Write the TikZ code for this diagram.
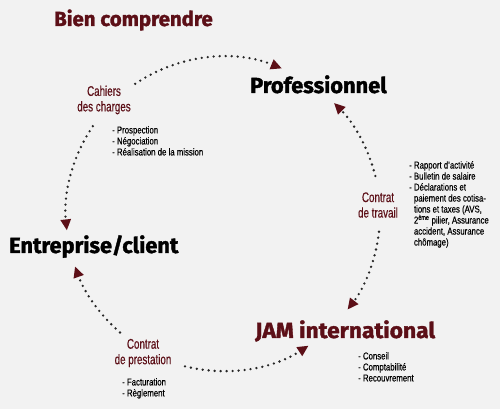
\documentclass[tikz,border=0pt]{standalone}
\usepackage{fontspec}
\setmainfont{Fira Sans}
\newfontfamily\heavyfont{Fira Sans}[BoldFeatures={FakeBold=1.6}]
\newfontfamily\wideheavyfont{Fira Sans}[BoldFeatures={FakeBold=1.6,FakeStretch=1.045}]
\newfontfamily\narrowfont[FakeStretch=0.78,FakeBold=0.4]{Liberation Sans}
\newfontfamily\labelfont[FakeStretch=0.70,FakeBold=0.4]{Liberation Sans}
\usetikzlibrary{arrows.meta}
\definecolor{bordeaux}{HTML}{5C0F17}
\definecolor{fond}{HTML}{F2F2F2}

\begin{document}
\begin{tikzpicture}[
    x=1pt,y=1pt,
    >={Triangle[length=11pt,width=10pt,color=bordeaux]},
    actor/.style={font=\heavyfont\bfseries\fontsize{21.8}{24}\selectfont,inner sep=0pt,anchor=base west},
    contract/.style={bordeaux,font=\labelfont\fontsize{14}{15.5}\selectfont,align=center,inner sep=0pt},
    tasks/.style={font=\narrowfont\fontsize{10}{11}\selectfont,align=left,inner sep=0pt,anchor=north west},
    link/.style={->,line width=2.6pt,line cap=round,dash pattern=on 0pt off 6pt,black!85},
]
% background
\fill[fond] (0,0) rectangle (500,409);
\node[font=\heavyfont\bfseries\fontsize{20.4}{22}\selectfont,bordeaux,inner sep=0pt,anchor=base west] (title) at (54,383) {Bien comprendre};

% the three parties
\node[actor] (pro) at (250,316) {Professionnel};
\node[actor] (ent) at (9,156) {Entreprise/client};
\node[actor,bordeaux,font=\wideheavyfont\bfseries\fontsize{21.8}{24}\selectfont] (jam) at (255,71) {JAM international};

% contracts sitting on the circle
\node[contract] (cdc) at (104,309) {Cahiers\\des charges};
\node[contract] (travail) at (378,204) {Contrat\\de travail};
\node[contract] (presta) at (143,56) {Contrat\\de prestation};

% what each contract covers
\node[tasks] (cdctasks) at (112,283) {- Prospection\\- Négociation\\- Réalisation de la mission};
\node[tasks] (travailtasks) at (409,248) {- Rapport d’activité\\- Bulletin de salaire\\- Déclarations et\\\hphantom{- }paiement des cotisa-\\\hphantom{- }tions et taxes (AVS,\\\hphantom{- }2\textsuperscript{ème} pilier, Assurance\\\hphantom{- }accident, Assurance\\\hphantom{- }chômage)};
\node[tasks] (prestatasks) at (122,31) {- Facturation\\- Règlement};
\node[tasks] (jamtasks) at (358,57) {- Conseil\\- Comptabilité\\- Recouvrement};

% dotted circle, cut by the contracts
\coordinate (ctr) at (223,195);
\draw[link] ([shift={(124:157)}]ctr) arc[start angle=124,end angle=68,radius=157];
\draw[link] ([shift={(146:157)}]ctr) arc[start angle=146,end angle=186,radius=157];
\draw[link] ([shift={(229:157)}]ctr) arc[start angle=229,end angle=199.5,radius=157];
\draw[link] ([shift={(256:157)}]ctr) arc[start angle=256,end angle=303,radius=157];
\draw[link] ([shift={(-6.5:157)}]ctr) arc[start angle=-6.5,end angle=-37.5,radius=157];
\draw[link] ([shift={(14:157)}]ctr) arc[start angle=14,end angle=45,radius=157];
\end{tikzpicture}
\end{document}
